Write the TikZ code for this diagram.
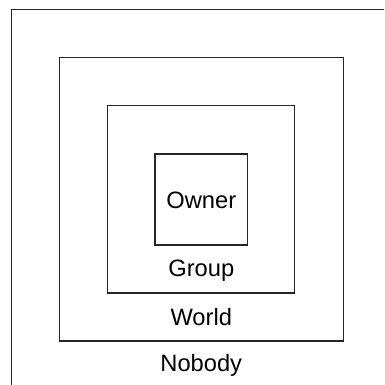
\documentclass[tikz,border=0pt]{standalone}
\usepackage{fontspec}
\setmainfont{Liberation Sans}
\begin{document}
\begin{tikzpicture}[x=1pt,y=-1pt,
  box/.style={draw=black!85, line width=1.3pt},
  lbl/.style={font=\fontsize{23.7}{28}\selectfont, anchor=base, inner sep=0pt}]
\useasboundingbox (0,0) rectangle (384,385);
\clip (0,0) rectangle (384,385);
\draw[box] (11.5,9.5) rectangle (391.5,389.5);
\draw[box] (59.5,57.5) rectangle (343.5,341);
\draw[box] (107.5,105.5) rectangle (294.5,293);
\draw[box] (155,154) rectangle (247.5,245);
\node[lbl] (owner) at (201.25,208.5) {Owner};
\node[lbl] (group) at (201.25,276) {Group};
\node[lbl] (world) at (201.25,325) {World};
\node[lbl] (nobody) at (201.25,371) {Nobody};
\end{tikzpicture}
\end{document}
